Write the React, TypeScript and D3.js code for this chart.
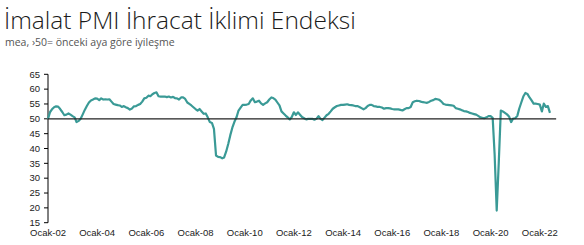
import React from "react";
import * as d3 from "d3";

const startYear = 2002;
const values2002 = [50.0, 52.3, 53.2, 53.9, 54.2, 54.1, 53.3, 52.3, 51.2, 51.4, 51.8, 51.4];
const values2003 = [50.9, 50.5, 48.9, 49.3, 50.0, 51.5, 53.0, 54.3, 55.5, 56.2, 56.5, 56.9];
const values2004 = [56.8, 56.3, 56.9, 56.5, 56.6, 56.5, 56.6, 55.8, 55.0, 54.8, 54.6, 54.5];
const values2005 = [54.0, 54.3, 53.9, 53.6, 53.1, 53.5, 54.2, 54.3, 54.7, 55.0, 55.8, 56.9];
const values2006 = [57.1, 57.8, 57.6, 58.3, 58.7, 58.9, 57.6, 57.5, 57.5, 57.5, 57.3, 57.5];
const values2007 = [57.2, 57.4, 57.0, 56.9, 56.5, 57.2, 57.2, 56.7, 55.5, 55.0, 54.5, 53.9];
const values2008 = [53.3, 52.8, 53.3, 52.5, 51.7, 51.8, 50.5, 48.9, 48.6, 46.6, 37.6, 37.2];
const values2009 = [37.1, 36.7, 37.0, 39.0, 41.5, 44.5, 47.0, 49.0, 50.5, 52.8, 53.8, 54.7];
const values2010 = [54.7, 54.8, 55.0, 56.2, 56.9, 55.6, 55.8, 56.1, 55.2, 54.7, 55.2, 55.6];
const values2011 = [56.5, 57.2, 57.0, 56.5, 55.5, 54.5, 52.5, 51.8, 51.1, 50.5, 49.8, 50.6];
const values2012 = [52.2, 51.3, 52.2, 51.4, 50.6, 50.2, 49.8, 50.0, 50.0, 50.0, 49.7, 50.0];
const values2013 = [50.9, 50.0, 49.6, 50.4, 51.2, 51.7, 52.5, 53.4, 53.9, 54.3, 54.5, 54.7];
const values2014 = [54.7, 54.8, 54.9, 54.7, 54.6, 54.5, 54.3, 54.3, 54.0, 53.6, 53.2, 53.6];
const values2015 = [54.3, 54.7, 54.7, 54.3, 54.2, 54.0, 54.0, 53.8, 53.4, 53.6, 53.6, 53.5];
const values2016 = [53.3, 53.2, 53.2, 53.2, 53.0, 52.8, 53.2, 53.6, 53.6, 54.0, 55.6, 55.9];
const values2017 = [56.1, 56.0, 55.8, 55.6, 55.5, 55.4, 55.7, 56.1, 56.3, 56.7, 56.6, 56.4];
const values2018 = [55.8, 55.0, 54.8, 54.7, 54.6, 54.5, 54.4, 53.6, 53.4, 53.2, 52.9, 52.6];
const values2019 = [52.5, 52.3, 52.0, 51.8, 51.6, 51.4, 51.0, 50.5, 50.3, 50.2, 50.5, 50.9];
const values2020 = [50.9, 50.3, 38.0, 19.1, 35.0, 52.8, 52.5, 52.0, 51.5, 50.8, 48.9, 50.1];
const values2021 = [50.2, 51.0, 53.4, 55.5, 57.5, 58.7, 58.4, 57.2, 56.2, 55.1, 55.1, 55.0];
const values2022 = [54.8, 52.5, 55.1, 54.0, 54.3, 52.0];

const yearlyValues = [
  values2002, values2003, values2004, values2005, values2006, values2007, values2008,
  values2009, values2010, values2011, values2012, values2013, values2014, values2015,
  values2016, values2017, values2018, values2019, values2020, values2021, values2022,
];

const yTicks = [15, 20, 25, 30, 35, 40, 45, 50, 55, 60, 65];
const xTickYears = [2002, 2004, 2006, 2008, 2010, 2012, 2014, 2016, 2018, 2020, 2022];
const xTickLabels = ["Ocak-02", "Ocak-04", "Ocak-06", "Ocak-08", "Ocak-10", "Ocak-12", "Ocak-14", "Ocak-16", "Ocak-18", "Ocak-20", "Ocak-22"];
const referenceValue = 50;

const title = "İmalat PMI İhracat İklimi Endeksi";
const subtitle = "mea, ›50= önceki aya göre iyileşme";

type Pt = { date: Date; value: number };
const data: Pt[] = [];
yearlyValues.forEach((arr, yi) => {
  arr.forEach((v, mi) => {
    data.push({ date: new Date(startYear + yi, mi, 1), value: v });
  });
});

export default function App() {
  const W = 584;
  const H = 245;
  const x = d3
    .scaleTime()
    .domain([new Date(2002, 0, 1), new Date(2022, 0, 1)])
    .range([48, 539.8]);
  const y = d3.scaleLinear().domain([15, 65]).range([222.7, 74.3]);
  const line = d3
    .line<Pt>()
    .x((d) => x(d.date))
    .y((d) => y(d.value))
    .curve(d3.curveLinear);
  const axisFont = "'Liberation Sans', Arial, sans-serif";
  const lineEnd = x(new Date(2022, 8, 1));

  return (
    <svg
      width={W}
      height={H}
      style={{ position: "absolute", left: 0, top: 0, background: "#fff" }}
    >
      <text x={4} y={29} fontFamily="'Open Sans', sans-serif" fontWeight={300} fontSize={24.5} fill="#1a1a1a">
        {title}
      </text>
      <text x={5} y={45.5} fontFamily="'Open Sans', sans-serif" fontSize={10.5} fill="#555">
        {subtitle}
      </text>

      {/* y axis */}
      <line x1={x(new Date(2002, 0, 1))} x2={x(new Date(2002, 0, 1))} y1={y(65)} y2={y(15)} stroke="#000" strokeWidth={1} />
      {yTicks.map((t) => (
        <g key={t}>
          <line x1={44} x2={48} y1={y(t)} y2={y(t)} stroke="#000" strokeWidth={1} />
          <text x={40} y={y(t) + 3.2} textAnchor="end" fontFamily={axisFont} fontSize={9.5} fill="#222">
            {t}
          </text>
        </g>
      ))}

      {/* x labels */}
      {xTickYears.map((yr, i) => (
        <text
          key={yr}
          x={x(new Date(yr, 0, 1))}
          y={235.5}
          textAnchor="middle"
          fontFamily={axisFont}
          fontSize={9.5}
          fill="#222"
        >
          {xTickLabels[i]}
        </text>
      ))}

      <path d={line(data) || ""} fill="none" stroke="#3a9a96" strokeWidth={2.2} strokeLinejoin="round" />

      <line
        x1={x(new Date(2002, 0, 1))}
        x2={lineEnd}
        y1={y(referenceValue)}
        y2={y(referenceValue)}
        stroke="#222"
        strokeWidth={1.2}
      />
    </svg>
  );
}
